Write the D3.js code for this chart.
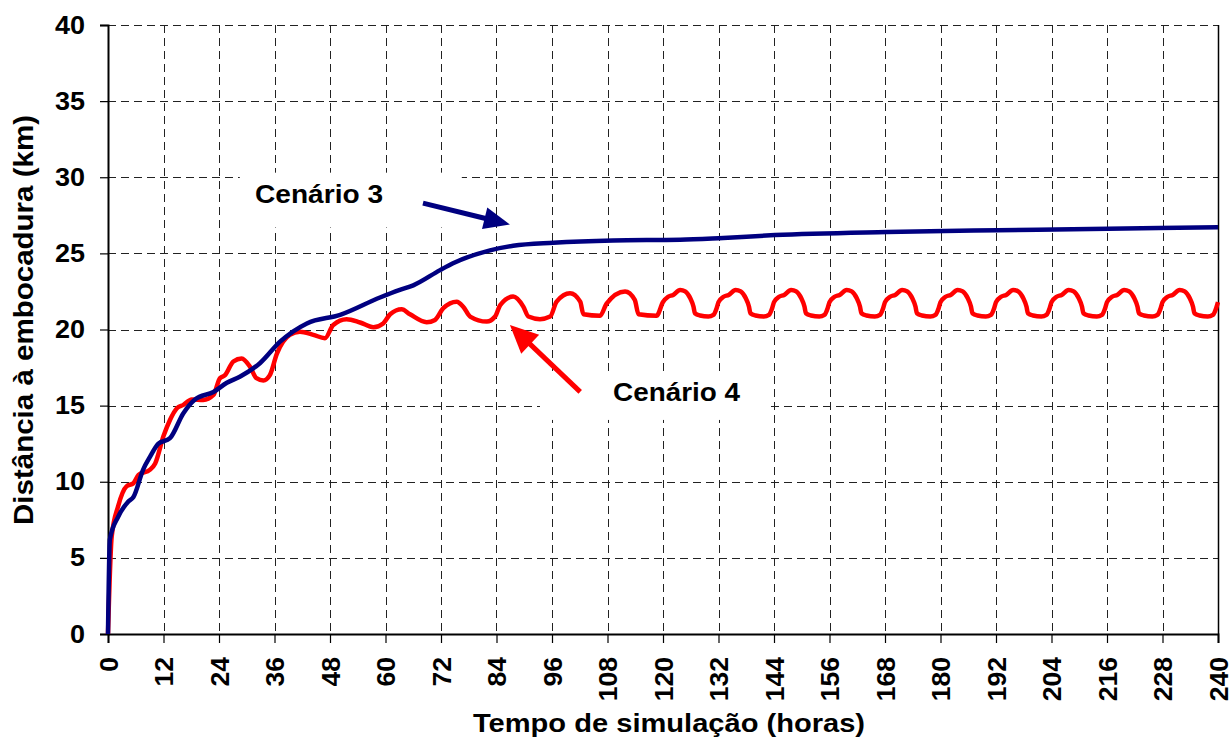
<!DOCTYPE html>
<html>
<head>
<meta charset="utf-8">
<script src="https://cdn.jsdelivr.net/npm/d3@7"></script>
<style>
  body { margin: 0; background: #fff; }
  text { font-family: "Liberation Sans", Arial, sans-serif; font-weight: bold; fill: #000; }
</style>
</head>
<body>
<svg id="chart" width="1231" height="747"></svg>
<script>
// hours / km
const xTicks = [0, 12, 24, 36, 48, 60, 72, 84, 96, 108, 120, 132, 144, 156, 168, 180, 192, 204, 216, 228, 240];
const yTicks = [0, 5, 10, 15, 20, 25, 30, 35, 40];

// Cenário 3 (blue)
const scenario3 = [
  [0, 0], [0.4, 6.2], [2.2, 7.7], [4.4, 8.7], [5.5, 9.0], [7.6, 10.8], [9.1, 11.65],
  [10.9, 12.5], [13.4, 12.86], [16.3, 14.5], [18.8, 15.4], [22.8, 15.9], [25.7, 16.5],
  [28.5, 16.9], [32.9, 17.8], [37.2, 19.2], [43.0, 20.4], [50.2, 20.96], [58.8, 22.1],
  [63.1, 22.6], [66, 22.9], [71.8, 23.9], [74.6, 24.35], [82.6, 25.2], [87.6, 25.5],
  [96.3, 25.7], [109.2, 25.85], [123.7, 25.9], [132, 26.0], [144.2, 26.2], [168.4, 26.4],
  [192.3, 26.52], [216.2, 26.62], [240, 26.72]
];

// Cenário 4 (red), first days
const scenario4Start = [
  [0, 0], [0.8, 6.4], [2.2, 8.4], [4.0, 9.7], [5.5, 9.9], [6.6, 10.45], [9.1, 10.8],
  [10.2, 11.2], [12.0, 13.0], [13.4, 14.06], [14.9, 14.83], [16.3, 15.05], [18.1, 15.4],
  [20.6, 15.37], [22.8, 15.7], [24.2, 16.8], [25.3, 17.0], [27.1, 17.9], [28.9, 18.1],
  [30.7, 17.56], [32.1, 16.8], [33.6, 16.65], [35.0, 17.0], [36.5, 18.4], [39.3, 19.65],
  [41.5, 19.86], [44.4, 19.65], [46.9, 19.43], [48.7, 20.3], [51.6, 20.68], [54.5, 20.46],
  [57.4, 20.15], [59.5, 20.4], [61.0, 21.0], [63.5, 21.33], [65.3, 21.0], [68.9, 20.48],
  [70.7, 20.63], [72.5, 21.4], [75.4, 21.83], [76.8, 21.5], [78.3, 20.85], [81.9, 20.52],
  [83.7, 20.85], [84.8, 21.6], [87.6, 22.16], [89.8, 21.5], [90.9, 20.85], [93.4, 20.68],
  [95.6, 20.85], [97.0, 21.83], [99.9, 22.38], [102.1, 21.83], [102.8, 21.0], [106.4, 20.9],
  [107.8, 21.7], [111.8, 22.5], [113.9, 21.95], [114.7, 21.0], [118.6, 20.9]
];

// Cenário 4 (red), tidal oscillation from 120 h
const scenario4Tide = [
  [120.0, 21.8], [121.1, 22.15], [122.2, 22.27], [123.7, 22.6], [124.8, 22.5], [125.9, 22.05],
  [126.6, 21.5], [126.9, 21.07], [128.0, 20.92], [129.8, 20.85], [130.9, 20.96], [131.6, 21.4],
  [132.0, 21.8], [133.1, 22.15], [134.2, 22.27], [135.7, 22.6], [136.8, 22.5], [137.9, 22.05],
  [138.6, 21.5], [138.9, 21.07], [140.0, 20.92], [141.8, 20.85], [142.9, 20.96], [143.6, 21.4],
  [144.0, 21.8], [145.1, 22.15], [146.2, 22.27], [147.7, 22.6], [148.8, 22.5], [149.9, 22.05],
  [150.6, 21.5], [150.9, 21.07], [152.0, 20.92], [153.8, 20.85], [154.9, 20.96], [155.6, 21.4],
  [156.0, 21.8], [157.1, 22.15], [158.2, 22.27], [159.7, 22.6], [160.8, 22.5], [161.9, 22.05],
  [162.6, 21.5], [162.9, 21.07], [164.0, 20.92], [165.8, 20.85], [166.9, 20.96], [167.6, 21.4],
  [168.0, 21.8], [169.1, 22.15], [170.2, 22.27], [171.7, 22.6], [172.8, 22.5], [173.9, 22.05],
  [174.6, 21.5], [174.9, 21.07], [176.0, 20.92], [177.8, 20.85], [178.9, 20.96], [179.6, 21.4],
  [180.0, 21.8], [181.1, 22.15], [182.2, 22.27], [183.7, 22.6], [184.8, 22.5], [185.9, 22.05],
  [186.6, 21.5], [186.9, 21.07], [188.0, 20.92], [189.8, 20.85], [190.9, 20.96], [191.6, 21.4],
  [192.0, 21.8], [193.1, 22.15], [194.2, 22.27], [195.7, 22.6], [196.8, 22.5], [197.9, 22.05],
  [198.6, 21.5], [198.9, 21.07], [200.0, 20.92], [201.8, 20.85], [202.9, 20.96], [203.6, 21.4],
  [204.0, 21.8], [205.1, 22.15], [206.2, 22.27], [207.7, 22.6], [208.8, 22.5], [209.9, 22.05],
  [210.6, 21.5], [210.9, 21.07], [212.0, 20.92], [213.8, 20.85], [214.9, 20.96], [215.6, 21.4],
  [216.0, 21.8], [217.1, 22.15], [218.2, 22.27], [219.7, 22.6], [220.8, 22.5], [221.9, 22.05],
  [222.6, 21.5], [222.9, 21.07], [224.0, 20.92], [225.8, 20.85], [226.9, 20.96], [227.6, 21.4],
  [228.0, 21.8], [229.1, 22.15], [230.2, 22.27], [231.7, 22.6], [232.8, 22.5], [233.9, 22.05],
  [234.6, 21.5], [234.9, 21.07], [236.0, 20.92], [237.8, 20.85], [238.9, 20.96], [239.6, 21.4],
  [240.0, 21.8]
];

const scenario4 = scenario4Start.concat(scenario4Tide);

const svg = d3.select('#chart');
const plot = { left: 108, right: 1218, top: 25, bottom: 634 };

const x = d3.scaleLinear().domain([0, 240]).range([plot.left, plot.right]);
const y = d3.scaleLinear().domain([0, 40]).range([plot.bottom, plot.top]);

// grid
const grid = svg.append('g')
  .attr('stroke', '#222')
  .attr('stroke-width', 1)
  .attr('stroke-dasharray', '8,5')
  .attr('shape-rendering', 'crispEdges');

grid.selectAll('.hgrid')
  .data(yTicks.slice(1)).enter().append('line')
  .attr('x1', plot.left).attr('x2', plot.right)
  .attr('y1', d => Math.round(y(d)) + 0.5).attr('y2', d => Math.round(y(d)) + 0.5);

grid.selectAll('.vgrid')
  .data(xTicks.slice(1, -1)).enter().append('line')
  .attr('x1', d => Math.round(x(d)) + 0.5).attr('x2', d => Math.round(x(d)) + 0.5)
  .attr('y1', plot.top).attr('y2', plot.bottom);

// white label boxes cover the grid
const boxes = [
  { t0: 28.5, t1: 76.5, v0: 26.7, v1: 30.3 },
  { t0: 93.4, t1: 143.1, v0: 14.06, v1: 17.2 }
];
svg.append('g').selectAll('rect')
  .data(boxes).enter().append('rect')
  .attr('x', d => x(d.t0))
  .attr('y', d => y(d.v1))
  .attr('width', d => x(d.t1) - x(d.t0))
  .attr('height', d => y(d.v0) - y(d.v1))
  .attr('fill', '#fff');

// right border
svg.append('line')
  .attr('x1', plot.right + 0.5).attr('x2', plot.right + 0.5)
  .attr('y1', plot.top).attr('y2', plot.bottom)
  .attr('stroke', '#000').attr('stroke-width', 1.5);

// axes
const yAxis = svg.append('g')
  .attr('transform', `translate(${plot.left},0)`)
  .call(d3.axisLeft(y).tickValues(yTicks).tickSize(8).tickFormat(''));
const xAxis = svg.append('g')
  .attr('transform', `translate(0,${plot.bottom})`)
  .call(d3.axisBottom(x).tickValues(xTicks).tickSize(9).tickFormat(''));
[xAxis, yAxis].forEach(a => {
  a.select('.domain').attr('stroke', '#000').attr('stroke-width', 2);
  a.selectAll('.tick line').attr('stroke', '#000').attr('stroke-width', 1.2);
});

// tick labels
svg.append('g').selectAll('text')
  .data(yTicks).enter().append('text')
  .attr('x', 85)
  .attr('y', d => y(d) + 8.5)
  .attr('text-anchor', 'end')
  .attr('font-size', 25)
  .attr('textLength', d => String(d).length * 15)
  .attr('lengthAdjust', 'spacingAndGlyphs')
  .text(d => d);

svg.append('g').selectAll('text')
  .data(xTicks).enter().append('text')
  .attr('transform', d => `translate(${x(d) + 9.5},657) rotate(-90)`)
  .attr('text-anchor', 'end')
  .attr('font-size', 26.5)
  .text(d => d);

// axis titles
svg.append('text')
  .attr('x', 669).attr('y', 732)
  .attr('text-anchor', 'middle')
  .attr('font-size', 25)
  .attr('textLength', 392)
  .attr('lengthAdjust', 'spacingAndGlyphs')
  .text('Tempo de simulação (horas)');

svg.append('text')
  .attr('transform', 'translate(33,320) rotate(-90)')
  .attr('text-anchor', 'middle')
  .attr('font-size', 28)
  .attr('textLength', 410)
  .attr('lengthAdjust', 'spacingAndGlyphs')
  .text('Distância à embocadura (km)');

// series
const line = d3.line()
  .x(d => x(d[0]))
  .y(d => y(d[1]))
  .curve(d3.curveMonotoneX);

svg.append('path')
  .datum(scenario4)
  .attr('d', line)
  .attr('fill', 'none')
  .attr('stroke', '#ff0000')
  .attr('stroke-width', 4.5)
  .attr('stroke-linejoin', 'round');

svg.append('path')
  .datum(scenario3)
  .attr('d', line)
  .attr('fill', 'none')
  .attr('stroke', '#000080')
  .attr('stroke-width', 4.5)
  .attr('stroke-linejoin', 'round');

// annotations
const notes = [
  { label: 'Cenário 3', t: 31.8, v: 28.3, len: 128, color: '#000080',
    from: [68.1, 28.3], to: [86.9, 26.9], head: 26, width: 22 },
  { label: 'Cenário 4', t: 109.2, v: 15.3, len: 127, color: '#ff0000',
    from: [102.1, 15.9], to: [86.9, 20.3], head: 28, width: 26 }
];

svg.append('g').selectAll('text')
  .data(notes).enter().append('text')
  .attr('x', d => x(d.t))
  .attr('y', d => y(d.v))
  .attr('font-size', 25)
  .attr('textLength', d => d.len)
  .attr('lengthAdjust', 'spacingAndGlyphs')
  .text(d => d.label);

const arrows = svg.append('g');
notes.forEach(d => {
  const x0 = x(d.from[0]), y0 = y(d.from[1]);
  const x1 = x(d.to[0]), y1 = y(d.to[1]);
  const ang = Math.atan2(y1 - y0, x1 - x0);
  const bx = x1 - d.head * Math.cos(ang), by = y1 - d.head * Math.sin(ang);
  const nx = -Math.sin(ang) * d.width / 2, ny = Math.cos(ang) * d.width / 2;
  arrows.append('line')
    .attr('x1', x0).attr('y1', y0)
    .attr('x2', bx + 2 * Math.cos(ang)).attr('y2', by + 2 * Math.sin(ang))
    .attr('stroke', d.color)
    .attr('stroke-width', 5);
  arrows.append('path')
    .attr('d', `M${x1},${y1}L${bx + nx},${by + ny}L${bx - nx},${by - ny}Z`)
    .attr('fill', d.color);
});
</script>
</body>
</html>
